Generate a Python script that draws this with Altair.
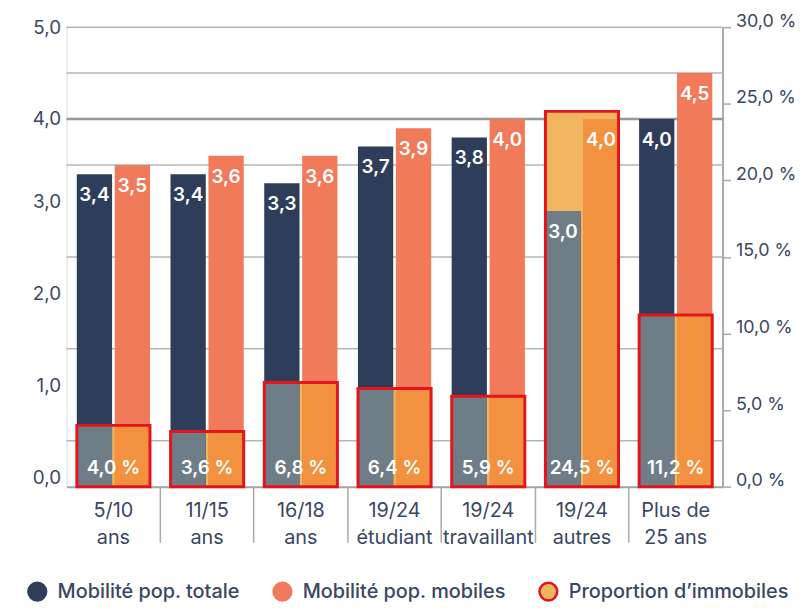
import altair as alt
import pandas as pd

# ---------------- data ----------------
categories = ["5/10\nans", "11/15\nans", "16/18\nans", "19/24\nétudiant",
              "19/24\ntravaillant", "19/24\nautres", "Plus de\n25 ans"]
mob_totale = [3.4, 3.4, 3.3, 3.7, 3.8, 3.0, 4.0]
mob_mobiles = [3.5, 3.6, 3.6, 3.9, 4.0, 4.0, 4.5]
prop_immobiles = [4.0, 3.6, 6.8, 6.4, 5.9, 24.5, 11.2]
series_names = ["Mobilité pop. totale", "Mobilité pop. mobiles", "Proportion d’immobiles"]
left_ticks = [0, 1, 2, 3, 4, 5]
right_ticks = [0, 5, 10, 15, 20, 25, 30]
grid_light = [0.5, 1.5, 2.5, 3.5, 4.5, 5.0]
grid_dark = [4.0]

LEFT_MAX = 5
RIGHT_MAX = 30

NAVY = "#2e3e5a"
SALMON = "#f07a5a"
GREY_OV = "#6f7d87"
ORANGE_OV = "#f2913f"
LIGHT_OR = "#f0b55f"
RED = "#e5141c"
TXT = "#3a4762"
FONT = "Inter"

df = pd.DataFrame({"cat": categories, "totale": mob_totale,
                   "mobiles": mob_mobiles, "immob": prop_immobiles})
rows = []
for c, t, m, im in zip(categories, mob_totale, mob_mobiles, prop_immobiles):
    rows.append({"cat": c, "series": series_names[0], "value": t, "immob": im})
    rows.append({"cat": c, "series": series_names[1], "value": m, "immob": im})
long = pd.DataFrame(rows)

# ---------------- encodings ----------------
xaxis = alt.Axis(
    title=None, labelAngle=0, labelExpr="split(datum.label, '\\n')",
    labelFont=FONT, labelFontSize=20, labelColor=TXT, labelLineHeight=27,
    labelBaseline="top", labelPadding=-42, tickSize=56, tickColor="#a9a9a9",
    tickWidth=1.5, bandPosition=0,
    tickOpacity={"condition": {"test": "datum.index == 0", "value": 0}, "value": 1},
    domainColor="#a3a3a3", domainWidth=2, grid=False,
)
X = alt.X("cat:N", sort=categories, scale=alt.Scale(paddingInner=0, paddingOuter=0), axis=xaxis)
XO = alt.XOffset("series:N", sort=series_names[:2],
                 scale=alt.Scale(domain=series_names[:2], paddingInner=0.07, paddingOuter=0.27))

left_axis = alt.Axis(
    title=None, values=left_ticks, labelExpr="replace(format(datum.value, '.1f'), '.', ',')",
    ticks=False, domain=False, grid=False, labelFont=FONT, labelFontSize=19,
    labelColor=TXT, labelPadding=6,
    labelOffset={"condition": {"test": "datum.value < 4", "value": -9}, "value": 0},
)
yscale_l = alt.Scale(domain=[0, LEFT_MAX], nice=False, zero=True)


def YL(field):
    return alt.Y(field, scale=yscale_l, axis=left_axis, title=None)


ratio = f"{LEFT_MAX} / {RIGHT_MAX}"

grid1 = alt.Chart(pd.DataFrame({"g": grid_light})).mark_rule(
    color="#b5b5b5", strokeWidth=1.5).encode(y=YL("g:Q"))
grid2 = alt.Chart(pd.DataFrame({"g": grid_dark})).mark_rule(
    color="#979797", strokeWidth=2.5).encode(y=YL("g:Q"))

under = alt.Chart(df).transform_calculate(im_l=f"datum.immob * {ratio}").mark_bar(
    width=alt.RelativeBandSize(0.78), color=LIGHT_OR).encode(x=X, y=YL("im_l:Q"))

bars = alt.Chart(long).mark_bar().encode(
    x=X, xOffset=XO, y=YL("value:Q"),
    color=alt.Color("series:N", scale=alt.Scale(domain=series_names[:2], range=[NAVY, SALMON]),
                    legend=None),
)

ov_grey = alt.Chart(long).transform_filter(
    alt.datum.series == series_names[0]).transform_calculate(
    ov=f"min(datum.value, datum.immob * {ratio})").mark_bar(color=GREY_OV).encode(
    x=X, xOffset=XO, y=YL("ov:Q"))
ov_orange = alt.Chart(long).transform_filter(
    alt.datum.series == series_names[1]).transform_calculate(
    ov=f"min(datum.value, datum.immob * {ratio})").mark_bar(color=ORANGE_OV).encode(
    x=X, xOffset=XO, y=YL("ov:Q"))

val_text = alt.Chart(long).transform_calculate(
    lbl="replace(format(datum.value, '.1f'), '.', ',')").mark_text(
    baseline="middle", dy=21, color="white", fontSize=19, fontWeight=600, font=FONT).encode(
    x=X, xOffset=XO, y=YL("value:Q"), text="lbl:N")

pct_text = alt.Chart(df).transform_calculate(
    lbl="replace(format(datum.immob, '.1f'), '.', ',') + ' %'").mark_text(
    baseline="middle", dy=-19, color="white", fontSize=19, fontWeight=600, font=FONT).encode(
    x=X, y=alt.YDatum(0, scale=yscale_l, axis=left_axis, title=None), text="lbl:N")

left_group = alt.layer(grid1, grid2, under, bars, ov_grey, ov_orange, val_text, pct_text)

right_axis = alt.Axis(
    title=None, orient="right", values=right_ticks,
    labelExpr="replace(format(datum.value, '.1f'), '.', ',') + ' %'",
    ticks=True, tickSize=8, tickColor="#a9a9a9", tickWidth=1.5,
    domain=True, domainColor="#a9a9a9", domainWidth=2, grid=False,
    labelFont=FONT, labelFontSize=18, labelColor=TXT, labelPadding=5, labelOffset=-6,
)
frame = alt.Chart(df).mark_bar(
    width=alt.RelativeBandSize(0.78), fillOpacity=0, stroke=RED, strokeWidth=3).encode(
    x=X, y=alt.Y("immob:Q", scale=alt.Scale(domain=[0, RIGHT_MAX], nice=False), axis=right_axis))

leg = alt.Legend(title=None, orient="none", legendX=-40, legendY=558, direction="horizontal",
                 symbolType="circle", symbolSize=320, symbolStrokeWidth=2.5, symbolOpacity=1,
                 labelFont=FONT, labelFontSize=20, labelFontWeight=500, labelColor=TXT,
                 columnPadding=28, labelOffset=10, labelLimit=0)
legend_layer = alt.Chart(pd.DataFrame({"series": series_names})).transform_filter(
    "false").mark_circle(strokeWidth=2.5, opacity=1).encode(
    fill=alt.Fill("series:N", scale=alt.Scale(domain=series_names, range=[NAVY, SALMON, LIGHT_OR]),
                  legend=leg),
    stroke=alt.Stroke("series:N", scale=alt.Scale(domain=series_names, range=[NAVY, SALMON, RED]),
                      legend=leg),
)

chart = alt.layer(left_group, frame, legend_layer).resolve_scale(y="independent").properties(
    width=661, height=463,
    padding={"left": 19, "top": 2, "right": 0, "bottom": 0},
).configure_view(stroke=None).configure(font=FONT)

chart.save("out.html", embed_options={"renderer": "svg", "actions": False})
